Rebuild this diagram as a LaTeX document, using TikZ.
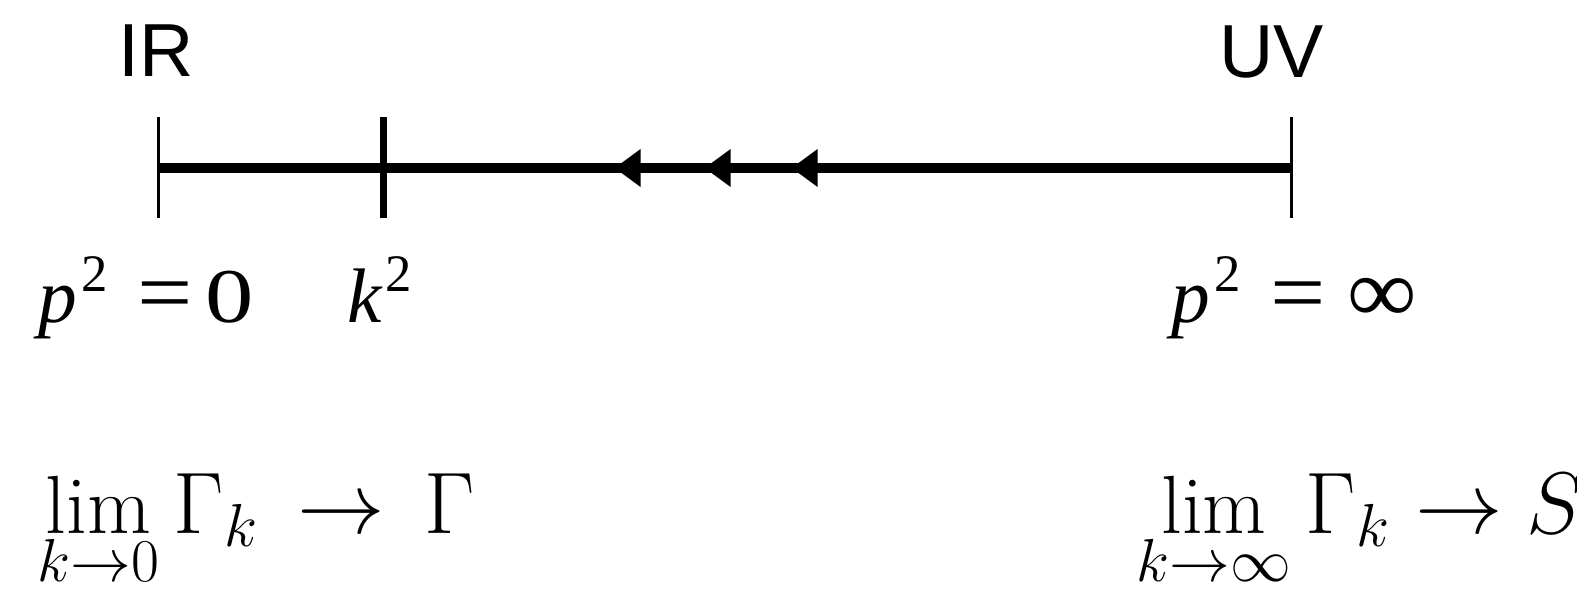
\documentclass[tikz,border=0pt]{standalone}
\usepackage{fontspec}
\newfontfamily\tnr{Liberation Serif}
\newfontfamily\hel{Liberation Sans}
\DeclareMathSizes{23.5}{23.5}{18}{13}
\usetikzlibrary{arrows.meta,decorations.markings}
\newcommand{\tsup}[1]{\hspace{0.05em}\raisebox{0.39em}{\fontsize{15}{17}\selectfont\upshape #1}}
\newcommand{\wideeq}{\scalebox{1.27}[1.15]{=}}
\newcommand{\limto}[1]{\mathrel{\mkern#1mu\to\mkern#1mu}}
\tikzset{
  sanslabel/.style={inner sep=0pt, font=\hel\fontsize{21.4}{25}\selectfont},
  serflabel/.style={inner sep=0pt, font=\tnr\fontsize{22}{26}\selectfont},
  mathlabel/.style={inner sep=0pt, font=\fontsize{23.5}{28}\selectfont},
  thintick/.style={line width=0.027cm},
  thicktick/.style={line width=0.07cm},
  axisline/.style={line width=0.1cm,
    postaction={decorate},
    decoration={markings,
      mark=at position 6.77cm with {\arrow{Triangle[length=0.26cm,width=0.36cm]}},
      mark=at position 5.87cm with {\arrow{Triangle[length=0.26cm,width=0.36cm]}},
      mark=at position 5.00cm with {\arrow{Triangle[length=0.26cm,width=0.36cm]}}}}
}
\begin{document}
\begin{tikzpicture}[x=1cm,y=1cm]
\useasboundingbox (0,0) rectangle (15.77,-6);
\coordinate (ir) at (1.583,-1.68);
\coordinate (kk) at (3.83,-1.68);
\coordinate (uv) at (12.915,-1.68);
\coordinate (irt) at (1.583,-1.17);
\coordinate (irb) at (1.583,-2.18);
\coordinate (kkt) at (3.83,-1.17);
\coordinate (kkb) at (3.83,-2.18);
\coordinate (uvt) at (12.915,-1.17);
\coordinate (uvb) at (12.915,-2.18);
\draw[axisline] (uv) -- (ir);
\draw[thintick] (irt) -- (irb);
\draw[thicktick] (kkt) -- (kkb);
\draw[thintick] (uvt) -- (uvb);
\node[sanslabel, anchor=base] (irlabel) at (1.56,-0.76) {IR};
\node[sanslabel, anchor=base] (uvlabel) at (12.715,-0.77) {UV};
\node[serflabel, anchor=base west] (p0) at (0.38,-3.22) {\itshape p\tsup{2}\upshape\hspace{0.385em}\wideeq\hspace{0.17em}\scalebox{1.25}[1]{0}};
\node[serflabel, anchor=base west] (k2) at (3.47,-3.22) {\itshape k\tsup{2}};
\node[serflabel, anchor=base west] (pinf) at (11.71,-3.22) {\itshape p\tsup{2}\upshape\hspace{0.385em}\wideeq\hspace{0.28em}\scalebox{1.26}[1.19]{∞}};
\node[mathlabel, anchor=base west] (limir) at (0.37,-5.33) {$\displaystyle\lim_{k\to0}\Gamma_k\limto{3}\Gamma$};
\node[mathlabel, anchor=base west] (limuv) at (11.36,-5.33) {$\displaystyle\lim_{k\to\infty}\Gamma_k\limto{0}S$};
\end{tikzpicture}
\end{document}
